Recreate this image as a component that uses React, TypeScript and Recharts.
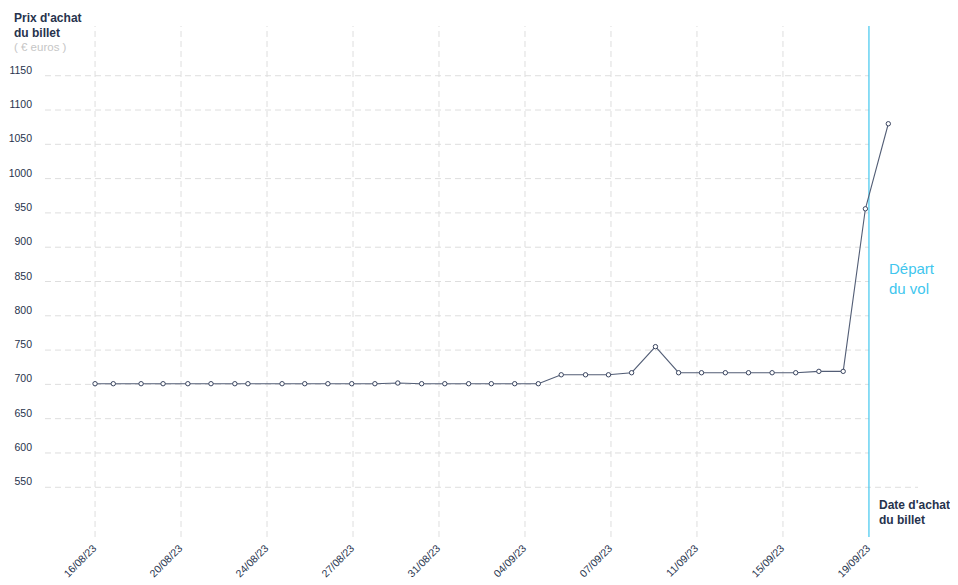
import React from "react";
import { LineChart, Line, XAxis, YAxis, ReferenceLine } from "recharts";

// Days since 16/08/23 at which each price was recorded
const dayOffsets = [0, 0.78, 1.97, 2.91, 3.97, 4.96, 5.98, 6.54, 8.0, 8.97, 9.96, 10.98, 11.97, 12.95, 13.97, 14.96, 15.98, 16.95, 17.95, 18.96, 19.94, 20.98, 21.96, 22.95, 23.97, 24.96, 25.94, 26.96, 27.95, 28.96, 29.97, 30.96, 32.0, 32.95, 33.93];
// Ticket price (euros)
const prices = [701, 701, 701, 701, 701, 701, 701, 701, 701, 701, 701, 701, 701, 702, 701, 701, 701, 701, 701, 701, 714, 714, 714, 717, 755, 717, 717, 717, 717, 717, 717, 719, 719, 956, 1080];

const xTickValues = [0, 3.678, 7.356, 11.034, 14.712, 18.39, 22.068, 25.746, 29.424, 33.102];
const xTickLabels = ["16/08/23", "20/08/23", "24/08/23", "27/08/23", "31/08/23", "04/09/23", "07/09/23", "11/09/23", "15/09/23", "19/09/23"];
const yTicks = [550, 600, 650, 700, 750, 800, 850, 900, 950, 1000, 1050, 1100, 1150];
const departureDay = 33.102;

const xDomain: [number, number] = [-2.14, 35.2];
const yDomain: [number, number] = [477.5, 1222.5];

const data = dayOffsets.map((d, i) => ({ day: d, price: prices[i] }));

const TEXT = "#27334d";
const FONT = "'Liberation Sans', Arial, sans-serif";
const CYAN = "#40c6ee";
const GRID = "#dedede";

const XTick = (props: any) => {
  const { x, y, index } = props;
  return (
    <g transform={`translate(${x + 2},${y + 4})`}>
      <text textAnchor="end" transform="rotate(-45)" fontSize={10.5} fill={TEXT} fontFamily={FONT}>
        {xTickLabels[index]}
      </text>
    </g>
  );
};

const YTick = (props: any) => {
  const { x, y, payload } = props;
  return (
    <text x={x - 5} y={y - 2} textAnchor="end" fontSize={10.5} fill={TEXT} fontFamily={FONT}>
      {payload.value}
    </text>
  );
};

export default function App() {
  return (
    <div style={{ position: "relative", width: 950, height: 577, fontFamily: FONT }}>
      <LineChart width={950} height={577} data={data} margin={{ top: 18, right: 40, bottom: 0, left: 0 }}>
        {xTickValues.slice(0, -1).map((t) => (
          <ReferenceLine key={`v${t}`} x={t} stroke={GRID} strokeDasharray="6 4" />
        ))}
        {yTicks.map((t) => (
          <ReferenceLine
            key={`h${t}`}
            segment={[{ x: xDomain[0], y: t }, { x: t === 550 ? xDomain[1] : departureDay, y: t }]}
            stroke={GRID}
            strokeDasharray="6 4"
          />
        ))}
        <XAxis
          type="number"
          dataKey="day"
          domain={xDomain}
          ticks={xTickValues}
          interval={0}
          axisLine={false}
          tickLine={false}
          height={48}
          tick={<XTick />}
        />
        <YAxis
          type="number"
          domain={yDomain}
          ticks={yTicks}
          interval={0}
          axisLine={false}
          tickLine={false}
          width={37}
          tick={<YTick />}
        />
        <ReferenceLine x={departureDay} stroke={CYAN} strokeWidth={1.2} />
        <Line
          type="linear"
          dataKey="price"
          stroke="#535e76"
          strokeWidth={1.1}
          dot={{ r: 2.2, fill: "#fff", stroke: "#3a4560", strokeWidth: 1 }}
          isAnimationActive={false}
        />
      </LineChart>
      <div style={{ position: "absolute", left: 6, top: 3, fontSize: 12, fontWeight: 700, color: TEXT, lineHeight: "15px" }}>
        Prix d'achat
        <br />
        du billet
      </div>
      <div style={{ position: "absolute", left: 6, top: 32, fontSize: 11.5, color: "#c6c6c6", lineHeight: "15px" }}>
        ( € euros )
      </div>
      <div style={{ position: "absolute", left: 871, top: 490, fontSize: 12, fontWeight: 700, color: TEXT, lineHeight: "15px" }}>
        Date d'achat
        <br />
        du billet
      </div>
      <div style={{ position: "absolute", left: 881, top: 251, fontSize: 15, color: CYAN, lineHeight: "20px" }}>
        Départ
        <br />
        du vol
      </div>
    </div>
  );
}
